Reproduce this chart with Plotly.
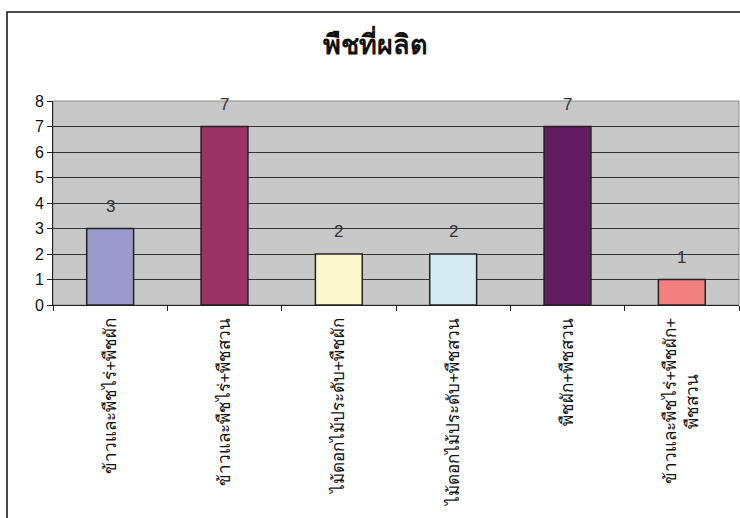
import plotly.graph_objects as go

# Crop combinations and number of respondents
categories = [
    "ข้าวและพืชไร่+พืชผัก",
    "ข้าวและพืชไร่+พืชสวน",
    "ไม้ดอกไม้ประดับ+พืชผัก",
    "ไม้ดอกไม้ประดับ+พืชสวน",
    "พืชผัก+พืชสวน",
    "ข้าวและพืชไร่+พืชผัก+<br>พืชสวน" + "\u00a0" * 12,
]
counts = [3, 7, 2, 2, 7, 1]
bar_colors = ["#9A9ACC", "#993366", "#FCF8CC", "#D4ECF2", "#621C62", "#F28080"]
y_ticks = [0, 1, 2, 3, 4, 5, 6, 7, 8]

W, H = 740, 518
L, R, T, B = 53, 1, 101, 213

fig = go.Figure()
fig.add_trace(go.Bar(
    x=categories,
    y=counts,
    marker=dict(color=bar_colors, line=dict(color="#222222", width=1.5)),
    width=0.41,
    hoverinfo="y",
))

# value labels above each bar
for c, v in zip(categories, counts):
    fig.add_annotation(
        x=c, y=v, text=str(v), showarrow=False,
        yanchor="bottom", yshift=11,
        font=dict(family="Liberation Sans, Arial", size=17, color="#333333"),
    )

pw = W - L - R
ph = H - T - B
# outer chart frame (continues past the visible page)
fig.add_shape(
    type="rect", xref="paper", yref="paper",
    x0=(7 - L) / pw, x1=(760 - L) / pw,
    y0=-(560 - (H - B)) / ph, y1=((H - B) - 12) / ph,
    line=dict(color="#111111", width=1.5), fillcolor="rgba(0,0,0,0)",
    layer="above",
)
# light border around the plotting area
fig.add_shape(
    type="rect", xref="paper", yref="paper", x0=0, x1=1, y0=0, y1=1,
    line=dict(color="#8C8C8C", width=1), fillcolor="rgba(0,0,0,0)",
    layer="below",
)

fig.update_layout(
    width=W, height=H,
    margin=dict(l=L, r=R, t=T, b=B),
    paper_bgcolor="white",
    plot_bgcolor="#C8C8C8",
    showlegend=False,
    title=dict(
        text="<b>พืชที่ผลิต</b>", xref="container", yref="container",
        x=375 / W, xanchor="center", y=1 - 45 / H, yanchor="middle",
        font=dict(family="Liberation Sans, Arial, sans-serif", size=27, color="#111111"),
    ),
    font=dict(family="Liberation Sans, Arial, sans-serif", color="#111111"),
)
fig.update_yaxes(
    range=[0, 8], tickvals=y_ticks, ticks="outside", ticklen=5,
    tickcolor="#222222", showline=True, linecolor="#222222", linewidth=1,
    showgrid=True, gridcolor="#333333", gridwidth=1,
    tickfont=dict(size=16, color="#111111"), zeroline=False,
)
fig.update_xaxes(
    type="category", tickangle=-90, ticks="outside", ticklen=5,
    tickson="boundaries", tickcolor="#222222", ticklabelstandoff=5,
    showline=True, linecolor="#222222", linewidth=1,
    tickfont=dict(size=17, color="#111111"),
)

fig.write_html("out.html")
